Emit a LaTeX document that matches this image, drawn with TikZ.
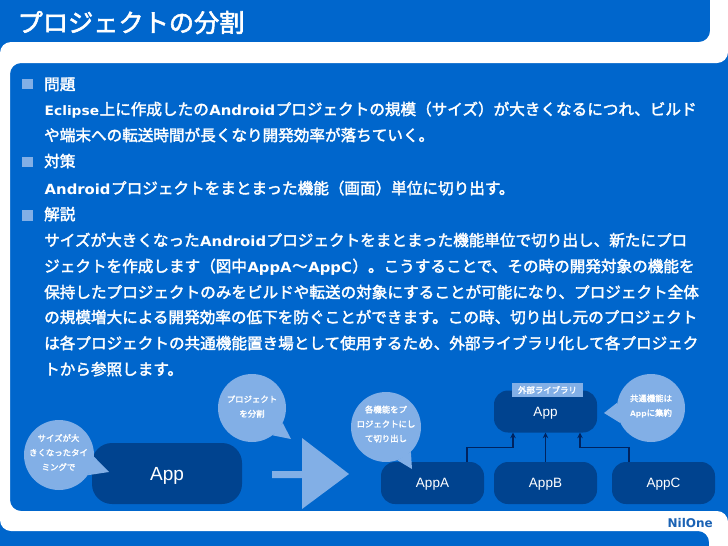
\documentclass[tikz,border=0pt]{standalone}
\usepackage{fontspec}
\usetikzlibrary{arrows.meta}
\newfontfamily\jpmid{Noto Sans CJK JP}[FakeBold=2.2]
\newfontfamily\latfont{DejaVu Sans}
\newfontfamily\latwide{DejaVu Sans Bold}[FakeStretch=1.06]
\newfontfamily\appfont{Liberation Sans}
\newcommand{\lat}[2][14]{\kern.5pt{\latwide\fontsize{#1}{#1}\selectfont #2}\kern.5pt}
\newcommand{\latsmall}[1]{{\latfont\bfseries\fontsize{7.5}{7.5}\selectfont #1}}
\definecolor{pageblue}{HTML}{0066CC}
\definecolor{boxblue}{HTML}{00438F}
\definecolor{paleblue}{HTML}{82AFE6}
\definecolor{linkblue}{HTML}{00235F}
\definecolor{brandblue}{HTML}{1A62B4}
\tikzset{
  titletext/.style={anchor=base west, inner sep=0pt, text=white, font=\jpmid\fontsize{25.2}{25.2}\selectfont},
  bodytext/.style={anchor=base west, inner sep=0pt, text=white, font=\jpmid\fontsize{15.6}{15.6}\selectfont},
  marker/.style={rectangle, fill=paleblue, inner sep=0pt, minimum size=10.5pt},
  appbox/.style={rectangle, rounded corners=14pt, fill=boxblue, inner sep=0pt, text=white, text depth=0pt, minimum width=103pt, minimum height=42pt, font=\appfont\fontsize{13.5}{13.5}\selectfont},
  bubble/.style={circle, fill=paleblue, inner sep=0pt, minimum size=#1},
  bubbletext/.style={inner sep=0pt, align=center, text=white, font=\jpmid\fontsize{8.4}{14.5}\selectfont},
  link/.style={draw=linkblue, line width=1.3pt, -{Stealth[length=5.5pt,width=5.5pt]}}
}
\begin{document}
\begin{tikzpicture}[x=1pt,y=-1pt]
\useasboundingbox (0,0) rectangle (728,546);
\fill[pageblue] (0,0) rectangle (728,546);
\fill[white, rounded corners=11pt] (300,42) -- (710,42) -- (710,-30) -- (728,-30) -- (728,63) -- (10,63) -- (10,511) -- (728,511) -- (728,580) -- (709,580) -- (709,531) -- (0,531) -- (0,42) -- cycle;
\fill[pageblue] (728,63) rectangle (729,511);
\node[titletext] (title) at (17.5,32) {プロジェクトの分割};

\node[marker] (mark0) at (27.5,84) {};
\node[bodytext] (head0) at (44,90) {問題};
\node[bodytext] (line0) at (44,115) {\lat[13]{Eclipse}上に作成したの\lat{Android}プロジェクトの規模（サイズ）が大きくなるにつれ、ビルド};
\node[bodytext] (line1) at (44,141) {や端末への転送時間が長くなり開発効率が落ちていく。};
\node[marker] (mark1) at (27.5,162) {};
\node[bodytext] (head1) at (44,167) {対策};
\node[bodytext] (line2) at (44,194) {\lat{Android}プロジェクトをまとまった機能（画面）単位に切り出す。};
\node[marker] (mark2) at (27.5,215.5) {};
\node[bodytext] (head2) at (44,220) {解説};
\node[bodytext] (line3) at (44,246) {サイズが大きくなった\lat{Android}プロジェクトをまとまった機能単位で切り出し、新たにプロ};
\node[bodytext] (line4) at (44,272) {ジェクトを作成します（図中\lat{AppA}～\lat{AppC}）。こうすることで、その時の開発対象の機能を};
\node[bodytext] (line5) at (44,298) {保持したプロジェクトのみをビルドや転送の対象にすることが可能になり、プロジェクト全体};
\node[bodytext] (line6) at (44,323) {の規模増大による開発効率の低下を防ぐことができます。この時、切り出し元のプロジェクト};
\node[bodytext] (line7) at (44,349) {は各プロジェクトの共通機能置き場として使用するため、外部ライブラリ化して各プロジェク};
\node[bodytext] (line8) at (44,375) {トから参照します。};

\node[appbox, minimum width=150pt, minimum height=61pt, rounded corners=20pt, font=\appfont\fontsize{19}{19}\selectfont] (bigapp) at (167,473.5) {App};
\fill[paleblue] (272,471) -- (302,471) -- (302,438) -- (349,474) -- (302,509) -- (302,478) -- (272,478) -- cycle;

\node[appbox] (app) at (545.5,411.5) {App};
\node[appbox] (appa) at (432.5,483) {AppA};
\node[appbox] (appb) at (545.5,483) {AppB};
\node[appbox] (appc) at (663.5,483) {AppC};
\node[rectangle, fill=paleblue, inner sep=0pt, minimum width=71pt, minimum height=14pt, text=white, font=\jpmid\fontsize{8.4}{8.4}\selectfont] (extlib) at (547.5,390) {外部ライブラリ};
\draw[link] ([xshift=34.5]appa.north) -- ++(0,-14) -| ([xshift=-32.5]app.south);
\draw[link] (appb.north) -- (app.south);
\draw[link] ([xshift=-34.5]appc.north) -- ++(0,-14) -| ([xshift=34.5]app.south);

\node[bubble=70pt] (bub0) at (59,455) {};
\fill[paleblue] (bub0.-3) -- (109,472) -- (bub0.-35) -- cycle;
\node[bubbletext] (bubtext0) at (58.5,452.5) {サイズが大\\きくなったタイ\\ミングで};
\node[bubble=68pt] (bub1) at (252,408) {};
\fill[paleblue] (bub1.-26) -- (291,439) -- (bub1.-53) -- cycle;
\node[bubbletext] (bubtext1) at (252,406.5) {プロジェクト\\を分割};
\node[bubble=70pt] (bub2) at (386,427) {};
\fill[paleblue] (bub2.-45) -- (412,469) -- (bub2.-71) -- cycle;
\node[bubbletext] (bubtext2) at (386,424) {各機能をプ\\ロジェクトにし\\て切り出し};
\node[bubble=68pt] (bub3) at (651,408) {};
\fill[paleblue] (bub3.171) -- (604,413) -- (bub3.206) -- cycle;
\node[bubbletext] (bubtext3) at (651,406) {共通機能は\\\latsmall{App}に集約};

\node[anchor=base east, inner sep=0pt, text=brandblue, font=\latfont\bfseries\fontsize{12}{12}\selectfont] (brand) at (713,527) {NilOne};
\end{tikzpicture}
\end{document}
